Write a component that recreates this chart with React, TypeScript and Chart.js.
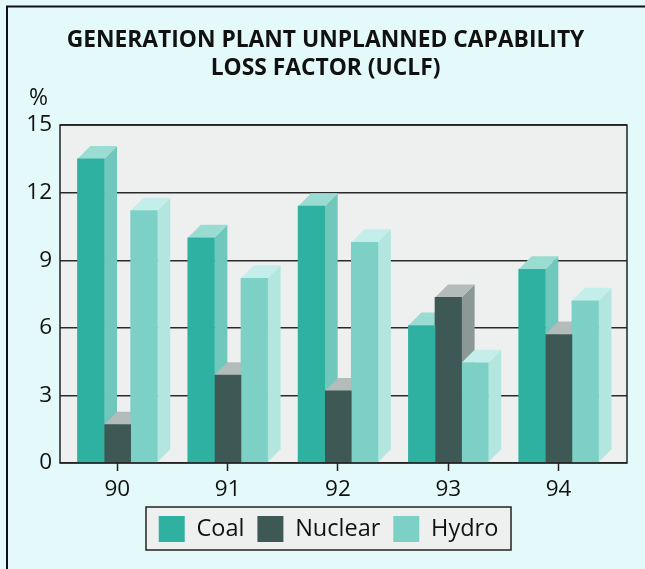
import React, { useEffect, useRef } from "react";
import { Chart, registerables } from "chart.js";

Chart.register(...registerables);

const years = ["90", "91", "92", "93", "94"];
const coal = [13.5, 10.0, 11.4, 6.1, 8.6];
const nuclear = [1.7, 3.9, 3.2, 7.35, 5.7];
const hydro = [11.2, 8.2, 9.8, 4.45, 7.2];

const FONT = "'Open Sans', sans-serif";
const PAGE_BG = "#e4fafa";
const PLOT_BG = "#eef0ef";
const DEPTH = 13;

const sideColors = ["#70c8bc", "#8b9895", "#b4e6e0"];
const topColors = ["#9bdcd2", "#b3bcba", "#c4eeea"];

const toPoints = (values: number[]) => values.map((y, x) => ({ x, y }));

const depthPlugin = {
  id: "depth",
  afterLayout(chart: any) {
    chart.legend.left += 3;
    chart.legend.right += 3;
  },
  beforeDraw(chart: any) {
    const { ctx, chartArea: a } = chart;
    ctx.save();
    ctx.fillStyle = PAGE_BG;
    ctx.fillRect(0, 0, chart.width, chart.height);
    ctx.fillStyle = PLOT_BG;
    ctx.fillRect(a.left, a.top, a.right - a.left, a.bottom - a.top);
    ctx.fillRect(146, 507, 365, 43);
    ctx.restore();
  },
  beforeDatasetsDraw(chart: any) {
    const { ctx } = chart;
    ctx.save();
    years.forEach((_, i) => {
      chart.data.datasets.forEach((_d: any, di: number) => {
        const el = chart.getDatasetMeta(di).data[i];
        const l = el.x - el.width / 2;
        const r = el.x + el.width / 2;
        const t = el.y;
        const b = el.base;
        ctx.fillStyle = sideColors[di];
        ctx.beginPath();
        ctx.moveTo(r, t);
        ctx.lineTo(r + DEPTH, t - DEPTH);
        ctx.lineTo(r + DEPTH, b - DEPTH);
        ctx.lineTo(r, b);
        ctx.closePath();
        ctx.fill();
        ctx.fillStyle = topColors[di];
        ctx.beginPath();
        ctx.moveTo(l, t);
        ctx.lineTo(l + DEPTH, t - DEPTH);
        ctx.lineTo(r + DEPTH, t - DEPTH);
        ctx.lineTo(r, t);
        ctx.closePath();
        ctx.fill();
      });
    });
    ctx.restore();
  },
  afterDraw(chart: any) {
    const { ctx, chartArea: a } = chart;
    ctx.save();
    ctx.strokeStyle = "#111";
    ctx.lineWidth = 2;
    ctx.beginPath();
    ctx.moveTo(7, 569);
    ctx.lineTo(7, 6.5);
    ctx.lineTo(645, 6.5);
    ctx.stroke();
    ctx.lineWidth = 1.5;
    ctx.strokeStyle = "#222";
    ctx.strokeRect(a.left, a.top, a.right - a.left, a.bottom - a.top);
    ctx.fillStyle = "#111";
    ctx.font = `23px ${FONT}`;
    ctx.textAlign = "left";
    ctx.textBaseline = "alphabetic";
    ctx.fillText("%", 29, 105);
    ctx.strokeRect(146, 507, 365, 43);
    ctx.restore();
  },
};

export default function App() {
  const ref = useRef<HTMLCanvasElement>(null);
  useEffect(() => {
    document.body.style.margin = "0";
    const chart = new Chart(ref.current!, {
      type: "bar",
      data: {
        datasets: [
          { label: "Coal", data: toPoints(coal), backgroundColor: "#2fb1a1" },
          { label: "Nuclear", data: toPoints(nuclear), backgroundColor: "#3e5955" },
          { label: "Hydro", data: toPoints(hydro), backgroundColor: "#7dd0c6" },
        ],
      } as any,
      options: {
        animation: false,
        responsive: false,
        layout: { padding: { left: 24, right: 18, top: 0, bottom: 17 } },
        datasets: { bar: { barThickness: 26.6, borderWidth: 0 } },
        scales: {
          x: {
            type: "linear",
            offset: false,
            min: -0.52,
            max: 4.62,
            afterBuildTicks(axis: any) {
              axis.ticks = years.map((_, i) => ({ value: i }));
            },
            afterFit(axis: any) {
              axis.height = 40;
            },
            ticks: {
              color: "#111",
              font: { family: FONT, size: 22.5 },
              padding: 5,
              autoSkip: false,
              maxRotation: 0,
              callback: (v: any) => years[v],
            },
            grid: {
              display: true,
              offset: false,
              drawOnChartArea: false,
              drawTicks: true,
              tickLength: 8,
              tickColor: "#222",
              tickWidth: 1.5,
            },
            border: { display: false },
          },
          y: {
            min: 0,
            max: 15,
            afterFit(axis: any) {
              axis.width = 36;
            },
            ticks: {
              stepSize: 3,
              color: "#111",
              font: { family: FONT, size: 22.5 },
              padding: 8,
            },
            grid: { color: "#2a2a2a", lineWidth: 1.5, drawTicks: false },
            border: { display: false },
          },
        },
        plugins: {
          title: {
            display: true,
            text: ["GENERATION PLANT UNPLANNED CAPABILITY", "LOSS FACTOR (UCLF)"],
            color: "#111",
            font: { family: FONT, size: 22.8, weight: "bold", lineHeight: 1.23 },
            padding: { top: 26, bottom: 43 },
          },
          legend: {
            position: "bottom",
            labels: {
              boxWidth: 26,
              boxHeight: 26,
              color: "#111",
              font: { family: FONT, size: 23.5 },
              padding: 13,
            },
          },
          tooltip: { enabled: false },
        },
      } as any,
      plugins: [depthPlugin],
    });
    return () => chart.destroy();
  }, []);
  return (
    <div style={{ position: "absolute", left: 0, top: 0, width: 645, height: 569 }}>
      <canvas ref={ref} width={645} height={569} style={{ display: "block" }} />
    </div>
  );
}
